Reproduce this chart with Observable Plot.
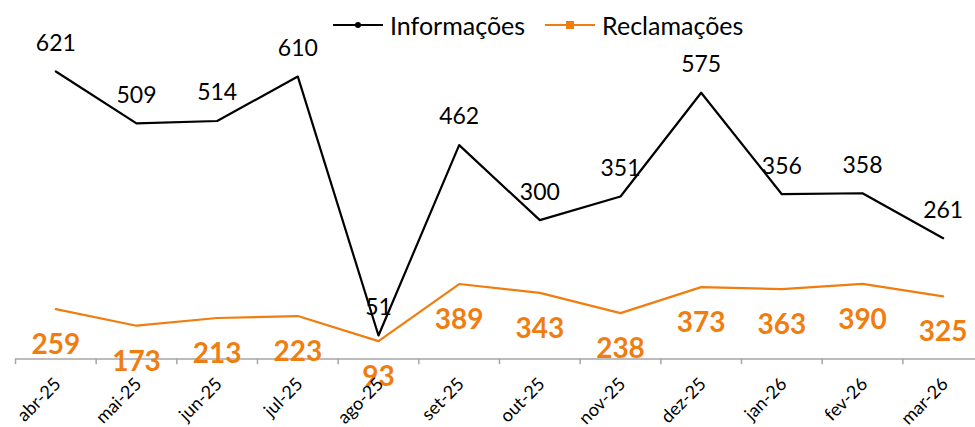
<!DOCTYPE html>
<html>
<head>
<meta charset="utf-8">
<script src="https://cdn.jsdelivr.net/npm/d3@7"></script>
<script src="https://cdn.jsdelivr.net/npm/@observablehq/plot@0.6"></script>
<style>
  html, body { margin: 0; padding: 0; background: #fff; }
  #wrap { position: relative; width: 975px; height: 427px; font-family: Lato, "Noto Sans", sans-serif; overflow: hidden; }
  #legend { position: absolute; top: 10px; left: 333px; display: flex; align-items: center; font-size: 25px; color: #000; white-space: nowrap; }
  #legend .item { display: flex; align-items: center; }
  #legend svg { display: block; margin-right: 7px; }
  #chart { position: absolute; top: 0; left: 0; }
</style>
</head>
<body>
<div id="wrap">
  <div id="chart"></div>
  <div id="legend"></div>
</div>
<script>
const months = ["abr-25","mai-25","jun-25","jul-25","ago-25","set-25","out-25","nov-25","dez-25","jan-26","fev-26","mar-26"];
const informacoes = [621,509,514,610,51,462,300,351,575,356,358,261];
const reclamacoes = [259,173,213,223,93,389,343,238,373,363,390,325];
const seriesNames = ["Informações","Reclamações"];
const seriesColors = ["#000000","#F07D0F"];
// primary axis max and secondary axis max (Reclamações plotted on secondary axis)
const primaryMax = 700;
const secondaryMax = 1680;

const data = months.map((m, i) => ({month: m, info: informacoes[i], recl: reclamacoes[i], zero: 0}));
const toPrimary = v => v * primaryMax / secondaryMax;

const step = 968 / months.length;

const chart = Plot.plot({
  width: 975,
  height: 427,
  marginLeft: 15,
  marginRight: 0,
  marginTop: 0,
  marginBottom: 0,
  style: {fontFamily: "Lato, 'Noto Sans', sans-serif", background: "white", overflow: "visible"},
  x: {type: "point", domain: months, range: [15, 983], padding: 0.5, round: false, axis: null},
  y: {domain: [0, primaryMax], range: [358.6, 358.6 - primaryMax * 0.4632], axis: null},
  marks: [
    Plot.line(data, {x: "month", y: "info", stroke: seriesColors[0], strokeWidth: 2.2}),
    Plot.line(data, {x: "month", y: d => toPrimary(d.recl), stroke: seriesColors[1], strokeWidth: 2.2}),
    Plot.ruleY([0], {stroke: "#A6A6A6", strokeWidth: 1.5}),
    Plot.ruleX(data, {x: "month", y1: 0, y2: -12, dx: -step / 2, stroke: "#A6A6A6", strokeWidth: 1.5}),
    Plot.text(data, {x: "month", y: "info", text: d => String(d.info), dy: -28, lineAnchor: "middle", fontSize: 23, fill: "#000"}),
    Plot.text(data, {x: "month", y: d => toPrimary(d.recl), text: d => String(d.recl), dy: 36, lineAnchor: "middle", fontSize: 28, fontWeight: "bold", fill: seriesColors[1]}),
    Plot.text(data, {x: "month", y: "zero", text: "month", rotate: -45, textAnchor: "end", lineAnchor: "middle", dx: 2, dy: 22, fontSize: 18, fill: "#000"})
  ]
});
document.getElementById("chart").appendChild(chart);

// Legend
const legend = document.getElementById("legend");
seriesNames.forEach((name, i) => {
  const item = document.createElement("div");
  item.className = "item";
  if (i > 0) item.style.marginLeft = "20px";
  const marker = i === 0
    ? `<circle cx="25" cy="10" r="3" fill="${seriesColors[i]}"/>`
    : `<rect x="21" y="6" width="8" height="8" fill="${seriesColors[i]}"/>`;
  item.innerHTML = `<svg width="50" height="20"><line x1="0" y1="10" x2="50" y2="10" stroke="${seriesColors[i]}" stroke-width="2.2"/>${marker}</svg><span>${name}</span>`;
  legend.appendChild(item);
});
</script>
</body>
</html>
